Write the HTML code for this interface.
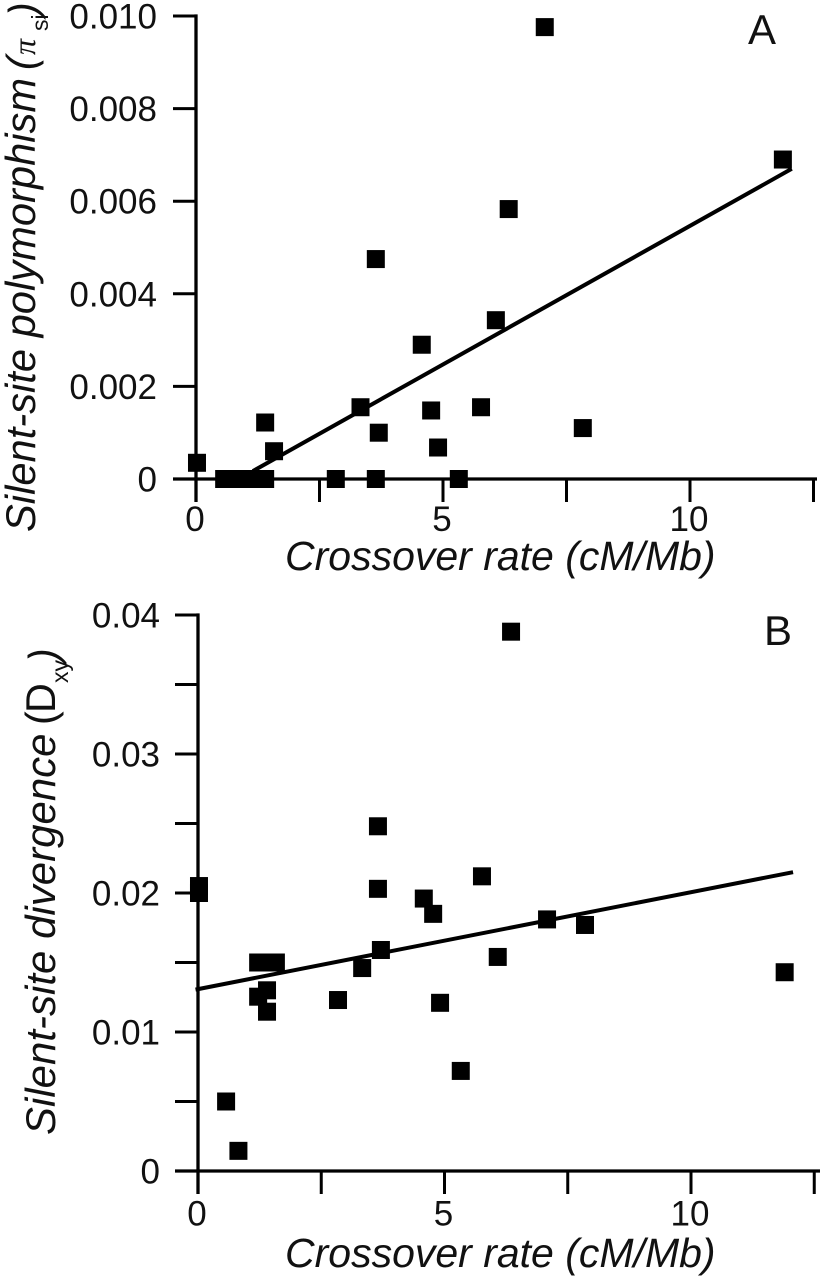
<!DOCTYPE html>
<html lang="en">
<head>
<meta charset="utf-8">
<title>Crossover rate vs silent-site polymorphism and divergence</title>
<style>
html,body{margin:0;padding:0;background:#fff;}
svg{display:block;}
text{font-family:"Liberation Sans",sans-serif;fill:#111;}
</style>
</head>
<body>
<svg id="chart" width="823" height="1280" viewBox="0 0 823 1280" xmlns="http://www.w3.org/2000/svg">
  <g id="panel-a">
    <g font-style="italic" font-size="41">
      <text transform="translate(35 532) rotate(-90)" font-size="41.7">Silent-site polymorphism</text>
      <text transform="translate(35 70) rotate(-90)">(</text>
      <text transform="translate(35 55) rotate(-90)" style="font-family:'Liberation Serif',serif" font-size="32">π</text>
      <text transform="translate(48 31) rotate(-90)" font-size="23" font-style="normal">si</text>
      <text transform="translate(37 16) rotate(-90)">)</text>
    </g>
    <text x="285" y="570" font-size="41" font-style="italic">Crossover rate (cM/Mb)</text>
    <text x="748" y="44" font-size="42">A</text>
  </g>
  <g id="panel-b">
    <g font-size="41.3">
      <text transform="translate(55 1135) rotate(-90)" font-style="italic" font-size="42">Silent-site divergence</text>
      <text transform="translate(55 725) rotate(-90)">(</text>
      <text transform="translate(55 713) rotate(-90)">D</text>
      <text transform="translate(68 683) rotate(-90)" font-size="23">xy</text>
      <text transform="translate(58 662) rotate(-90)" font-style="italic">)</text>
    </g>
    <text x="285" y="1267" font-size="41" font-style="italic">Crossover rate (cM/Mb)</text>
    <text x="764" y="645" font-size="42">B</text>
  </g>
</svg>
<script>
// Panel A data
const crossoverA = [0.02, 0.57, 0.85, 1.2, 1.4, 1.4, 1.58, 2.83, 3.33, 3.64, 3.64, 3.7, 4.57, 4.76, 4.9, 5.32, 5.77, 6.07, 6.33, 7.06, 7.83, 11.88];
const polymorphismA = [0.00035, 0, 0, 0, 0, 0.00122, 0.0006, 0, 0.00155, 0.00475, 0, 0.001, 0.0029, 0.00148, 0.00068, 0, 0.00155, 0.00343, 0.00583, 0.00976, 0.0011, 0.0069];
const fitXA = [1.15, 12.06];
const fitYA = [0.00017, 0.0067];
const xTickValuesA = [0, 2.5, 5, 7.5, 10, 12.5];
const xTickLabelsA = ['0', '', '5', '', '10', ''];
const yTickValuesA = [0, 0.002, 0.004, 0.006, 0.008, 0.01];
const yTickLabelsA = ['0', '0.002', '0.004', '0.006', '0.008', '0.010'];

// Panel B data
const crossoverB = [0.02, 0.02, 0.57, 0.82, 1.22, 1.4, 1.4, 1.22, 1.58, 2.84, 3.33, 3.65, 3.65, 3.71, 4.58, 4.77, 4.91, 5.33, 5.76, 6.08, 6.35, 7.08, 7.85, 11.9];
const divergenceB = [0.0205, 0.02, 0.005, 0.00145, 0.01254, 0.013, 0.01146, 0.015, 0.015, 0.0123, 0.0146, 0.0248, 0.0203, 0.0159, 0.0196, 0.0185, 0.0121, 0.0072, 0.0212, 0.0154, 0.0388, 0.0181, 0.0177, 0.0143];
const fitXB = [-0.05, 12.07];
const fitYB = [0.01305, 0.0215];
const xTickValuesB = [0, 2.5, 5, 7.5, 10, 12.5];
const xTickLabelsB = ['0', '', '5', '', '10', ''];
const yTickValuesB = [0, 0.005, 0.01, 0.015, 0.02, 0.025, 0.03, 0.035, 0.04];
const yTickLabelsB = ['0', '', '0.01', '', '0.02', '', '0.03', '', '0.04'];

const NS = 'http://www.w3.org/2000/svg';

function make(parent, tag, attrs, content) {
  const el = document.createElementNS(NS, tag);
  for (const k in attrs) el.setAttribute(k, attrs[k]);
  if (content !== undefined) el.textContent = content;
  parent.appendChild(el);
  return el;
}

function drawPanel(cfg) {
  const g = document.getElementById(cfg.id);
  const sx = v => cfg.x0 + v * cfg.xScale;
  const sy = v => cfg.y0 - (v / cfg.yMax) * (cfg.y0 - cfg.yTop);

  // y axis line
  const yAxis = make(g, 'line', {x1: sx(0), x2: sx(0), y1: sy(cfg.yMax) - 1.6, y2: cfg.y0 + 23, stroke: '#000', 'stroke-width': 3.3});
  
  

  // x axis line
  const xAxis = make(g, 'line', {x1: cfg.x0 - 23, x2: cfg.xEnd, y1: cfg.y0, y2: cfg.y0, stroke: '#000', 'stroke-width': 3.3});
  
  

  // y ticks
  cfg.yTicks.forEach((v, i) => {
    const tick = make(g, 'line', {x1: cfg.x0 - 23, x2: cfg.x0, y1: sy(v), y2: sy(v), stroke: '#000', 'stroke-width': 3});
    
    
    if (cfg.yLabels[i]) {
      const label = make(g, 'text', {x: cfg.x0 - cfg.yLabelGap, y: sy(v) + 12.5, 'font-size': 35, 'text-anchor': 'end'}, cfg.yLabels[i]);
      
      
    }
  });

  // x ticks
  cfg.xTicks.forEach((v, i) => {
    const tick = make(g, 'line', {x1: sx(v), x2: sx(v), y1: cfg.y0, y2: cfg.y0 + 23, stroke: '#000', 'stroke-width': 3});
    
    
    if (cfg.xLabels[i]) {
      const label = make(g, 'text', {x: sx(v) - 1, y: cfg.y0 + cfg.xLabelGap, 'font-size': 35, 'text-anchor': 'middle'}, cfg.xLabels[i]);
      
      
    }
  });

  // regression line
  const fit = make(g, 'line', {x1: sx(cfg.fitX[0]), y1: sy(cfg.fitY[0]), x2: sx(cfg.fitX[1]), y2: sy(cfg.fitY[1]), stroke: '#000', 'stroke-width': 4});
  
  

  // points
  cfg.xs.forEach((xv, i) => {
    const pt = make(g, 'rect', {x: sx(xv) - 9, y: sy(cfg.ys[i]) - 9, width: 18, height: 18, fill: '#000'});
    
    
  });
}

drawPanel({
  id: 'panel-a', x0: 196, xScale: 49.4, xEnd: 817, y0: 479, yTop: 16, yMax: 0.01, yLabelGap: 39, xLabelGap: 52,
  xs: crossoverA, ys: polymorphismA, fitX: fitXA, fitY: fitYA,
  xTicks: xTickValuesA, xLabels: xTickLabelsA, yTicks: yTickValuesA, yLabels: yTickLabelsA
});
drawPanel({
  id: 'panel-b', x0: 198, xScale: 49.3, xEnd: 820, y0: 1171, yTop: 615, yMax: 0.04, yLabelGap: 38, xLabelGap: 54.5,
  xs: crossoverB, ys: divergenceB, fitX: fitXB, fitY: fitYB,
  xTicks: xTickValuesB, xLabels: xTickLabelsB, yTicks: yTickValuesB, yLabels: yTickLabelsB
});
</script>
</body>
</html>
